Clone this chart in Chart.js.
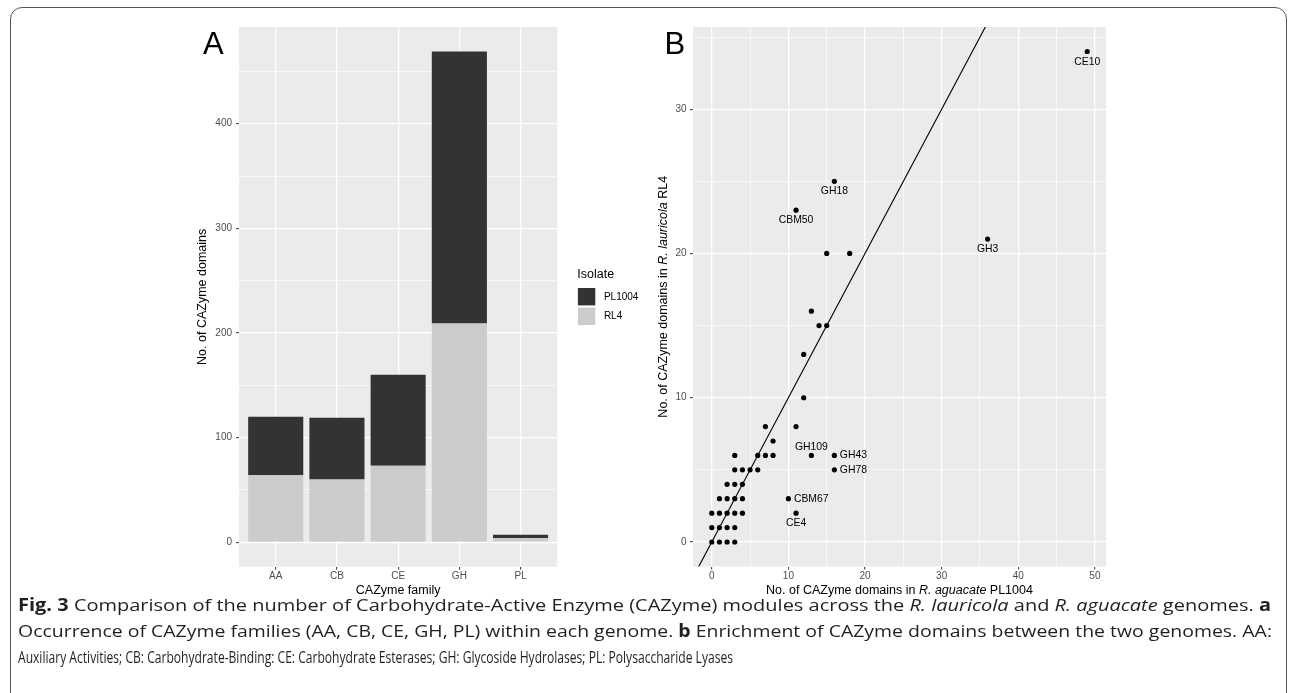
<!DOCTYPE html>
<html><head><meta charset="utf-8">
<script src="https://cdn.jsdelivr.net/npm/chart.js@4.4.1/dist/chart.umd.min.js"></script>
<style>
html,body{margin:0;padding:0;background:#fff;width:1290px;height:693px;overflow:hidden;}
#frame{position:absolute;left:10px;top:7px;width:1277px;height:760px;border:1.5px solid #555;border-radius:12px;box-sizing:border-box;}
#wa{position:absolute;left:0;top:0;width:645px;height:620px;}
#wb{position:absolute;left:645px;top:0;width:645px;height:620px;}
#cap{position:absolute;left:18px;top:592px;font-family:"Open Sans",sans-serif;font-size:17px;line-height:26px;color:#231f20;}
#cap div{white-space:nowrap;height:26px;}
#cap span.l{display:inline-block;transform-origin:0 50%;white-space:nowrap;}
</style></head><body>
<div id="frame"></div>
<div id="wa"><canvas id="ca" width="645" height="620"></canvas></div>
<div id="wb"><canvas id="cb" width="645" height="620"></canvas></div>
<div id="cap">
<div><span class="l" data-w="1253"><b>Fig. 3</b> Comparison of the number of Carbohydrate-Active Enzyme (CAZyme) modules across the <i>R. lauricola</i> and <i>R. aguacate</i> genomes. <b>a</b></span></div>
<div><span class="l" data-w="1254">Occurrence of CAZyme families (AA, CB, CE, GH, PL) within each genome. <b>b</b> Enrichment of CAZyme domains between the two genomes. AA:</span></div>
<div><span class="l" data-w="715">Auxiliary Activities; CB: Carbohydrate-Binding: CE: Carbohydrate Esterases; GH: Glycoside Hydrolases; PL: Polysaccharide Lyases</span></div>
</div>
<script>
// ---------- data: panel A ----------
const categories = ['AA', 'CB', 'CE', 'GH', 'PL'];
const rl4Counts = [64, 60, 73, 209, 4];
const pl1004Counts = [56, 59, 87, 260, 3];
const barYTicks = [0, 50, 100, 150, 200, 250, 300, 350, 400, 450];
const barYLabels = [0, 100, 200, 300, 400];

// ---------- data: panel B ----------
const familyPL1004 = [0,1,2,3, 0,1,2,3, 0,1,2,3,4, 1,2,3,4, 2,3,4, 3,4,5,6, 3,6,7,8, 8, 7,11, 12,12, 14,15,13, 15,18, 11,16, 36,49, 13,16,16,10,11];
const familyRL4    = [0,0,0,0, 1,1,1,1, 2,2,2,2,2, 3,3,3,3, 4,4,4, 5,5,5,5, 6,6,6,6, 7, 8,8, 10,13, 15,15,16, 20,20, 23,25, 21,34, 6,6,5,3,2];
const familyNames  = ['','','','', '','','','', '','','','','', '','','','', '','','', '','','','', '','','','', '', '','', '','', '','','', '','', 'CBM50','GH18', 'GH3','CE10', 'GH109','GH43','GH78','CBM67','CE4'];
const scatterXTicks = [0, 5, 10, 15, 20, 25, 30, 35, 40, 45, 50];
const scatterXLabels = [0, 10, 20, 30, 40, 50];
const scatterYTicks = [0, 5, 10, 15, 20, 25, 30, 35];
const scatterYLabels = [0, 10, 20, 30];
const identityLine = [-5, 60];

const FONT = '"Liberation Sans", Arial, Helvetica, sans-serif';
const PANEL_BG = '#ebebeb';
const DARK = '#333333', LIGHT = '#cccccc';

const bgPlugin = {
  id: 'panelBg',
  beforeDraw(chart) {
    const {ctx, chartArea: a} = chart;
    ctx.save(); ctx.fillStyle = PANEL_BG;
    ctx.fillRect(a.left, a.top, a.right - a.left, a.bottom - a.top);
    ctx.restore();
  }
};

function drawRich(ctx, parts, x, y, rotate, size) {
  ctx.save();
  ctx.translate(x, y);
  if (rotate) ctx.rotate(-Math.PI / 2);
  let total = 0;
  const ws = parts.map(p => { ctx.font = (p[1] ? 'italic ' : '') + size + 'px ' + FONT; const w = ctx.measureText(p[0]).width; total += w; return w; });
  let cx = -total / 2;
  ctx.textBaseline = 'middle'; ctx.textAlign = 'left'; ctx.fillStyle = '#000';
  parts.forEach((p, i) => { ctx.font = (p[1] ? 'italic ' : '') + size + 'px ' + FONT; ctx.fillText(p[0], cx, 0); cx += ws[i]; });
  ctx.restore();
}

function gridOpts(majors) {
  return {
    color: '#ffffff',
    lineWidth: c => (c.tick && majors.includes(c.tick.value)) ? 1.3 : 0.65,
    tickColor: c => (c.tick && majors.includes(c.tick.value)) ? '#333333' : 'rgba(0,0,0,0)',
    tickWidth: 1,
    tickLength: 3,
    drawTicks: true,
    offset: false
  };
}

// ---------- Panel A ----------
const totals = rl4Counts.map((v, i) => v + pl1004Counts[i]);
const barMax = Math.max(...totals);

const panelAPlugin = {
  id: 'panelA',
  afterDraw(chart) {
    const {ctx, chartArea: a} = chart;
    drawRich(ctx, [['CAZyme family', false]], (a.left + a.right) / 2, a.bottom + 24.3, false, 12.5);
    drawRich(ctx, [['No. of CAZyme domains', false]], a.left - 36, (a.top + a.bottom) / 2, true, 12.5);
    ctx.save();
    ctx.fillStyle = '#000'; ctx.textBaseline = 'alphabetic'; ctx.textAlign = 'left';
    ctx.font = '31px ' + FONT;
    ctx.fillText('A', 203, 54);
    // legend
    const lx = a.right + 20;
    ctx.font = '12.5px ' + FONT;
    ctx.fillText('Isolate', lx, 278.3);
    ctx.fillStyle = DARK; ctx.fillRect(lx + 0.6, 288, 17.4, 17.4);
    ctx.fillStyle = LIGHT; ctx.fillRect(lx + 0.6, 307.6, 17.4, 17.4);
    ctx.fillStyle = '#000'; ctx.font = '10px ' + FONT; ctx.textBaseline = 'middle';
    ctx.fillText('PL1004', lx + 26.6, 296.9);
    ctx.fillText('RL4', lx + 26.6, 316.3);
    ctx.restore();
  }
};

new Chart(document.getElementById('ca'), {
  type: 'bar',
  data: {
    datasets: [
      {label: 'RL4', data: rl4Counts.map((v, i) => ({x: i, y: v})), backgroundColor: LIGHT, borderWidth: 0, barPercentage: 0.9, categoryPercentage: 1},
      {label: 'PL1004', data: pl1004Counts.map((v, i) => ({x: i, y: v})), backgroundColor: DARK, borderWidth: 0, barPercentage: 0.9, categoryPercentage: 1}
    ]
  },
  options: {
    responsive: false, animation: false, events: [],
    layout: {padding: {left: 199, top: 27, right: 87.7, bottom: 33.3}},
    plugins: {legend: {display: false}, tooltip: {enabled: false}},
    scales: {
      x: {
        type: 'linear', stacked: true, offset: false,
        min: -0.6, max: categories.length - 1 + 0.6,
        afterBuildTicks: s => { s.ticks = categories.map((c, i) => ({value: i})); },
        afterFit: s => { s.height = 20; },
        ticks: {callback: v => categories[v] ?? '', autoSkip: false, maxRotation: 0, padding: 1, color: '#4d4d4d', font: {family: FONT, size: 10}},
        grid: gridOpts(categories.map((c, i) => i)),
        border: {display: false}
      },
      y: {
        type: 'linear', stacked: true,
        min: -0.05 * barMax, max: barMax * 1.05,
        afterBuildTicks: s => { s.ticks = barYTicks.map(v => ({value: v})); },
        afterFit: s => { s.width = 40; },
        ticks: {callback: v => barYLabels.includes(v) ? String(v) : '', autoSkip: false, padding: 4, color: '#4d4d4d', font: {family: FONT, size: 10}},
        grid: gridOpts(barYLabels),
        border: {display: false}
      }
    }
  },
  plugins: [bgPlugin, panelAPlugin]
});

// ---------- Panel B ----------
const xMin = Math.min(...familyPL1004), xMax = Math.max(...familyPL1004);
const yMin = Math.min(...familyRL4), yMax = Math.max(...familyRL4);
const labelPlacement = {CE10: 'below', GH3: 'below', GH18: 'below', CBM50: 'below', CE4: 'below', GH109: 'above', GH43: 'right', GH78: 'right', CBM67: 'right'};

const panelBPlugin = {
  id: 'panelB',
  afterDatasetsDraw(chart) {
    const {ctx, scales: {x, y}} = chart;
    ctx.save();
    ctx.font = '10.4px ' + FONT; ctx.fillStyle = '#000'; ctx.textBaseline = 'middle';
    familyNames.forEach((n, i) => {
      if (!n) return;
      const px = x.getPixelForValue(familyPL1004[i]);
      const py = y.getPixelForValue(familyRL4[i]);
      const p = labelPlacement[n] || 'below';
      if (p === 'right') { ctx.textAlign = 'left'; ctx.fillText(n, px + 5.5, py); }
      else if (p === 'above') { ctx.textAlign = 'center'; ctx.fillText(n, px, py - 8); }
      else { ctx.textAlign = 'center'; ctx.fillText(n, px, py + 10.2); }
    });
    ctx.restore();
  },
  afterDraw(chart) {
    const {ctx, chartArea: a} = chart;
    drawRich(ctx, [['No. of CAZyme domains in ', false], ['R. aguacate', true], [' PL1004', false]], (a.left + a.right) / 2, a.bottom + 24.3, false, 12.5);
    drawRich(ctx, [['No. of CAZyme domains in ', false], ['R. lauricola', true], [' RL4', false]], a.left - 29, (a.top + a.bottom) / 2, true, 12.5);
    ctx.save();
    ctx.fillStyle = '#000'; ctx.textBaseline = 'alphabetic'; ctx.textAlign = 'left';
    ctx.font = '31px ' + FONT;
    ctx.fillText('B', 19.4, 54);
    ctx.restore();
  }
};

new Chart(document.getElementById('cb'), {
  type: 'scatter',
  data: {
    datasets: [
      {type: 'line', data: identityLine.map(v => ({x: v, y: v})), borderColor: '#000', borderWidth: 1.1, pointRadius: 0, fill: false, order: 0},
      {data: familyPL1004.map((xv, i) => ({x: xv, y: familyRL4[i]})), backgroundColor: '#000', pointRadius: 2.6, pointBorderWidth: 0, order: 1}
    ]
  },
  options: {
    responsive: false, animation: false, events: [],
    layout: {padding: {left: 18, top: 27, right: 184, bottom: 33.5}},
    plugins: {legend: {display: false}, tooltip: {enabled: false}},
    scales: {
      x: {
        type: 'linear',
        min: xMin - 0.05 * (xMax - xMin), max: xMax + 0.05 * (xMax - xMin),
        afterBuildTicks: s => { s.ticks = scatterXTicks.map(v => ({value: v})); },
        afterFit: s => { s.height = 20; },
        ticks: {callback: v => scatterXLabels.includes(v) ? String(v) : '', autoSkip: false, maxRotation: 0, padding: 1, color: '#4d4d4d', font: {family: FONT, size: 10}},
        grid: gridOpts(scatterXLabels),
        border: {display: false}
      },
      y: {
        type: 'linear',
        min: yMin - 0.05 * (yMax - yMin), max: yMax + 0.05 * (yMax - yMin),
        afterBuildTicks: s => { s.ticks = scatterYTicks.map(v => ({value: v})); },
        afterFit: s => { s.width = 30; },
        ticks: {callback: v => scatterYLabels.includes(v) ? String(v) : '', autoSkip: false, padding: 3.5, color: '#4d4d4d', font: {family: FONT, size: 10}},
        grid: gridOpts(scatterYLabels),
        border: {display: false}
      }
    }
  },
  plugins: [bgPlugin, panelBPlugin]
});

// ---------- caption fit (each line to its width in the figure) ----------
function fitCaption() {
  document.querySelectorAll('#cap span.l').forEach(sp => {
    sp.style.transform = 'none';
    const w = sp.getBoundingClientRect().width;
    const target = parseFloat(sp.dataset.w);
    if (w > 0) sp.style.transform = 'scaleX(' + (target / w) + ')';
  });
}
fitCaption();
if (document.fonts && document.fonts.ready) document.fonts.ready.then(fitCaption);
</script>
</body></html>
